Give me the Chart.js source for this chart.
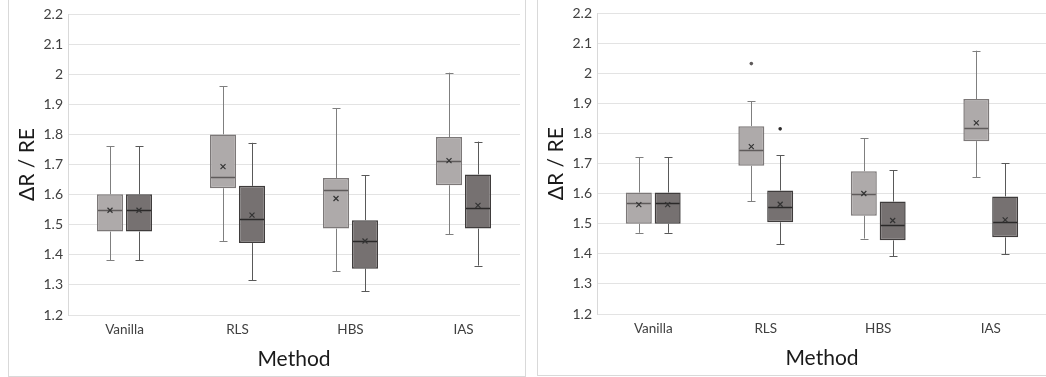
<!DOCTYPE html>
<html>
<head>
<meta charset="utf-8">
<title>ΔR / RE by method</title>
<script src="https://cdn.jsdelivr.net/npm/chart.js@4.4.1/dist/chart.umd.min.js"></script>
<style>
  html, body { margin: 0; padding: 0; background: #fff; overflow: hidden; }
  body { width: 1046px; height: 377px; position: relative; }
  .panel { position: absolute; border: 1px solid #d9d9d9; background: #fff; }
  #panel-left { left: 8px; top: -1px; width: 516px; height: 376px; }
  #panel-right { left: 537px; top: -1px; width: 518px; height: 375px; }
  .panel canvas { display: block; }
</style>
</head>
<body>
<div class="panel" id="panel-left"><canvas id="chart-left" width="516" height="376"></canvas></div>
<div class="panel" id="panel-right"><canvas id="chart-right" width="518" height="375"></canvas></div>

<script>
// ------------------------------------------------------------
// data
// each box: [min, q1, median, q3, max]
// ------------------------------------------------------------
const methods = ["Vanilla", "RLS", "HBS", "IAS"];
const yMin = 1.2;
const yMax = 2.2;
const yStep = 0.1;

// left panel
const leftLight = [
  [1.382, 1.477, 1.548, 1.601, 1.761],
  [1.446, 1.621, 1.660, 1.800, 1.960],
  [1.345, 1.487, 1.614, 1.655, 1.887],
  [1.468, 1.631, 1.713, 1.791, 2.005],
];
const leftLightMean = [1.548, 1.693, 1.587, 1.713];
const leftDark = [
  [1.382, 1.477, 1.548, 1.601, 1.761],
  [1.315, 1.439, 1.520, 1.629, 1.772],
  [1.279, 1.354, 1.446, 1.515, 1.664],
  [1.364, 1.487, 1.554, 1.667, 1.776],
];
const leftDarkMean = [1.548, 1.532, 1.446, 1.564];

// right panel
const rightLight = [
  [1.470, 1.500, 1.569, 1.604, 1.722],
  [1.575, 1.693, 1.744, 1.825, 1.908],
  [1.451, 1.527, 1.599, 1.675, 1.784],
  [1.655, 1.775, 1.818, 1.915, 2.076],
];
const rightLightMean = [1.564, 1.757, 1.601, 1.836];
const rightLightOutliers = [[], [2.033], [], []];
const rightDark = [
  [1.470, 1.500, 1.569, 1.604, 1.722],
  [1.433, 1.505, 1.555, 1.611, 1.728],
  [1.392, 1.445, 1.496, 1.574, 1.678],
  [1.399, 1.455, 1.505, 1.591, 1.702],
];
const rightDarkMean = [1.564, 1.565, 1.511, 1.513];
const rightDarkOutliers = [[], [1.816], [], []];

const LIGHT = { fill: "#aeaaaa", border: "#7c7878", whisker: "#7f7f7f", median: "#5f5b5b" };
const DARK = { fill: "#767171", border: "#3f3c3c", whisker: "#595959", median: "#2b2929" };
const FONT = "Lato, 'Open Sans', sans-serif";

// whiskers behind the boxes, medians / means / outliers on top
const boxExtras = {
  id: "boxExtras",
  beforeDatasetsDraw(chart) {
    const { ctx } = chart;
    const y = chart.scales.y;
    chart.data.datasets.forEach((ds, i) => {
      const meta = chart.getDatasetMeta(i);
      ctx.save();
      ctx.strokeStyle = ds.whiskerColor;
      ctx.lineWidth = 1;
      ds.stats.forEach((s, j) => {
        const x = Math.round(meta.data[j].x) + 0.5;
        const pMin = y.getPixelForValue(s[0]);
        const pMax = y.getPixelForValue(s[4]);
        ctx.beginPath();
        ctx.moveTo(x, pMin);
        ctx.lineTo(x, y.getPixelForValue(s[1]));
        ctx.moveTo(x, y.getPixelForValue(s[3]));
        ctx.lineTo(x, pMax);
        ctx.moveTo(x - 4, Math.round(pMin) + 0.5);
        ctx.lineTo(x + 4, Math.round(pMin) + 0.5);
        ctx.moveTo(x - 4, Math.round(pMax) + 0.5);
        ctx.lineTo(x + 4, Math.round(pMax) + 0.5);
        ctx.stroke();
      });
      ctx.restore();
    });
  },
  afterDatasetsDraw(chart) {
    const { ctx } = chart;
    const y = chart.scales.y;
    chart.data.datasets.forEach((ds, i) => {
      const meta = chart.getDatasetMeta(i);
      ctx.save();
      ds.stats.forEach((s, j) => {
        const bar = meta.data[j];
        const x = bar.x;
        const half = bar.width / 2;
        // median
        const pm = Math.round(y.getPixelForValue(s[2])) + 0.5;
        ctx.strokeStyle = ds.medianColor;
        ctx.lineWidth = 1.5;
        ctx.beginPath();
        ctx.moveTo(x - half + 1, pm);
        ctx.lineTo(x + half - 1, pm);
        ctx.stroke();
        // mean
        const py = y.getPixelForValue(ds.means[j]);
        ctx.strokeStyle = "#333";
        ctx.lineWidth = 1.2;
        ctx.beginPath();
        ctx.moveTo(x - 2.5, py - 2.5);
        ctx.lineTo(x + 2.5, py + 2.5);
        ctx.moveTo(x + 2.5, py - 2.5);
        ctx.lineTo(x - 2.5, py + 2.5);
        ctx.stroke();
        // outliers
        (ds.outliers ? ds.outliers[j] : []).forEach((v) => {
          ctx.fillStyle = ds.medianColor;
          ctx.beginPath();
          ctx.arc(x, y.getPixelForValue(v), 1.8, 0, Math.PI * 2);
          ctx.fill();
        });
      });
      ctx.restore();
    });
  },
};

function boxDataset(stats, means, outliers, pal) {
  return {
    data: stats.map((s) => [s[1], s[3]]),
    stats,
    means,
    outliers,
    backgroundColor: pal.fill,
    borderColor: pal.border,
    borderWidth: 1.5,
    borderSkipped: false,
    whiskerColor: pal.whisker,
    medianColor: pal.median,
    categoryPercentage: 0.513,
    barPercentage: 0.9,
  };
}

function makeChart(id, light, lightMean, lightOut, dark, darkMean, darkOut, padTop, padRight) {
  return new Chart(document.getElementById(id), {
    type: "bar",
    data: {
      labels: methods,
      datasets: [
        boxDataset(light, lightMean, lightOut, LIGHT),
        boxDataset(dark, darkMean, darkOut, DARK),
      ],
    },
    options: {
      responsive: false,
      animation: false,
      layout: { padding: { top: padTop, right: padRight, left: 0, bottom: 0 } },
      plugins: { legend: { display: false }, tooltip: { enabled: false } },
      scales: {
        x: {
          grid: { display: false, drawTicks: false },
          border: { display: false },
          ticks: { color: "#404040", font: { family: FONT, size: 13.5 }, padding: 7 },
          title: {
            display: true,
            text: "Method",
            color: "#1a1a1a",
            font: { family: FONT, size: 21 },
            padding: { top: 0, bottom: 4 },
          },
          afterFit: (scale) => { scale.height = 61; },
        },
        y: {
          min: yMin,
          max: yMax,
          grid: { color: "#e3e3e3", drawTicks: false },
          border: { display: true, color: "#d9d9d9" },
          ticks: {
            stepSize: yStep,
            color: "#404040",
            font: { family: FONT, size: 14 },
            padding: 5,
            callback: (v) => String(+v.toFixed(1)),
          },
          title: {
            display: true,
            text: "ΔR / RE",
            color: "#1a1a1a",
            font: { family: FONT, size: 21 },
            padding: { top: 6, bottom: 0 },
          },
          afterFit: (scale) => { scale.width = 59; },
        },
      },
    },
    plugins: [boxExtras],
  });
}

makeChart("chart-left", leftLight, leftLightMean, null, leftDark, leftDarkMean, null, 14, 5);
makeChart("chart-right", rightLight, rightLightMean, rightLightOutliers, rightDark, rightDarkMean, rightDarkOutliers, 13, 9);
</script>
</body>
</html>
